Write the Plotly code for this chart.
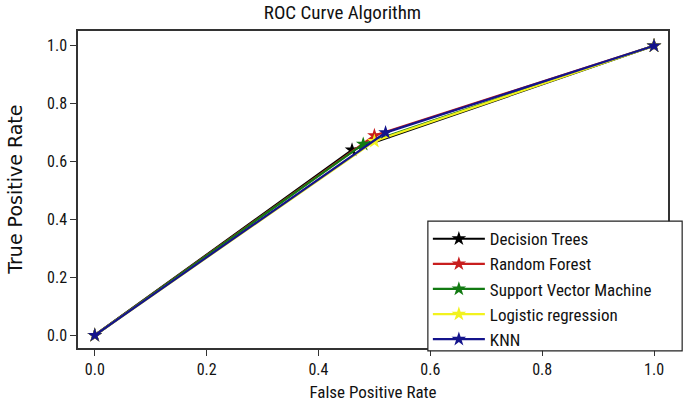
import plotly.graph_objects as go

names = ["Decision Trees", "Random Forest", "Support Vector Machine", "Logistic regression", "KNN"]
colors = ["#000000", "#c81e1e", "#127a12", "#f2f21e", "#14148c"]
fpr = [
    [0.0, 0.46, 1.0],
    [0.0, 0.50, 1.0],
    [0.0, 0.48, 1.0],
    [0.0, 0.50, 1.0],
    [0.0, 0.52, 1.0],
]
tpr = [
    [0.0, 0.64, 1.0],
    [0.0, 0.69, 1.0],
    [0.0, 0.66, 1.0],
    [0.0, 0.67, 1.0],
    [0.0, 0.70, 1.0],
]
tick_vals = [0.0, 0.2, 0.4, 0.6, 0.8, 1.0]
tick_text = ["0.0", "0.2", "0.4", "0.6", "0.8", "1.0"]

FONT = "Liberation Sans Narrow, Roboto Condensed, Arial Narrow, Liberation Sans, sans-serif"

fig = go.Figure()
for n, c, x, y in zip(names, colors, fpr, tpr):
    fig.add_trace(go.Scatter(
        x=x, y=y, name=n, mode="lines+markers",
        line=dict(color=c, width=2.2),
        marker=dict(symbol="star", size=11, color=c),
    ))

fig.update_layout(
    width=685, height=411,
    margin=dict(l=78, r=17, t=31, b=58),
    paper_bgcolor="white", plot_bgcolor="white",
    font=dict(family=FONT, size=16, color="#111111"),
    title=dict(text="ROC Curve Algorithm", x=0.5, xanchor="center", y=0.971, yanchor="middle",
               font=dict(family=FONT, size=19, color="#111111")),
    showlegend=True,
    legend=dict(x=0.593, y=0.40, xanchor="left", yanchor="top",
                borderwidth=0, bgcolor="rgba(0,0,0,0)",
                font=dict(family=FONT, size=17, color="#111111"),
                tracegroupgap=0, itemwidth=52),
    shapes=[dict(type="rect", xref="paper", yref="paper",
                 x0=0.593, x1=1.024, y0=-0.009, y1=0.40,
                 fillcolor="white", line=dict(color="#222222", width=1.2), layer="above")],
    annotations=[dict(text="True Positive Rate", xref="paper", yref="paper",
                      x=-0.108, y=0.5, xanchor="center", yanchor="middle",
                      textangle=-90, showarrow=False,
                      font=dict(family="DejaVu Sans, Open Sans, sans-serif", size=19, color="#111111"))],
)
fig.update_xaxes(
    range=[-0.030, 1.025], tickvals=tick_vals, ticktext=tick_text,
    showgrid=False, zeroline=False, showline=True, linecolor="#333333", linewidth=1.5,
    mirror=True, ticks="outside", ticklen=6, tickcolor="#333333",
    tickfont=dict(size=16),
    title=dict(text="False Positive Rate", font=dict(family=FONT, size=17), standoff=8),
)
fig.update_yaxes(
    range=[-0.044, 1.051], tickvals=tick_vals, ticktext=tick_text,
    showgrid=False, zeroline=False, showline=True, linecolor="#333333", linewidth=1.5,
    mirror=True, ticks="outside", ticklen=6, tickcolor="#333333",
    tickfont=dict(size=16),
)

fig.write_html("out.html", config={"displayModeBar": False},
               post_script="document.body.style.margin='0px';")
